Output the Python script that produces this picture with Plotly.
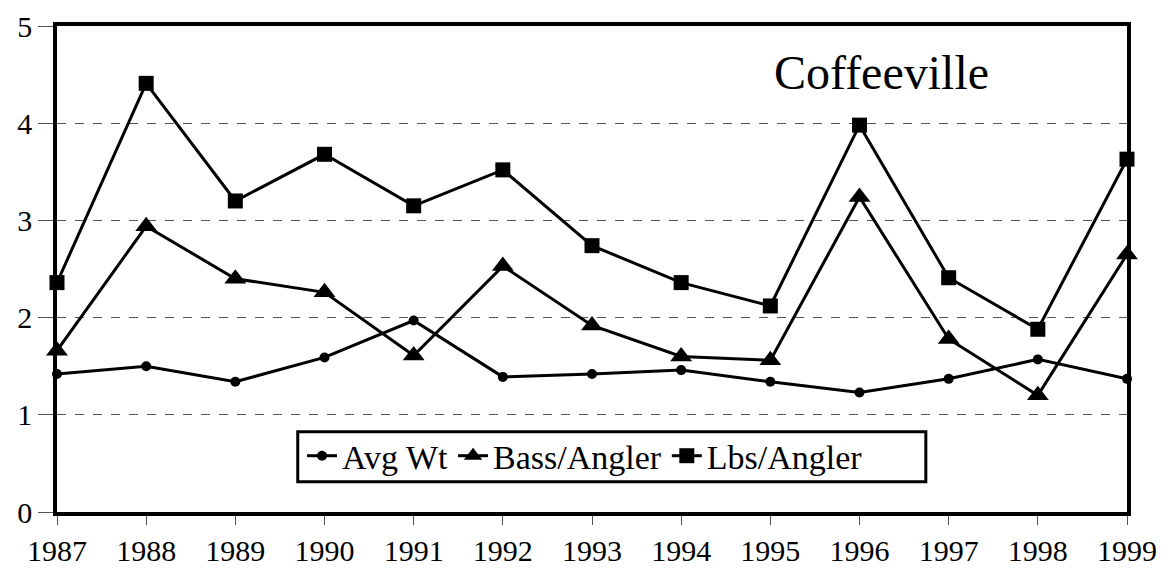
import plotly.graph_objects as go

years = [1987, 1988, 1989, 1990, 1991, 1992, 1993, 1994, 1995, 1996, 1997, 1998, 1999]
avg_wt = [1.42, 1.50, 1.34, 1.59, 1.97, 1.39, 1.42, 1.46, 1.34, 1.23, 1.37, 1.57, 1.37]
bass_per_angler = [1.66, 2.94, 2.40, 2.26, 1.61, 2.53, 1.92, 1.60, 1.56, 3.24, 1.78, 1.20, 2.65]
lbs_per_angler = [2.36, 4.41, 3.20, 3.68, 3.15, 3.52, 2.74, 2.36, 2.12, 3.98, 2.41, 1.88, 3.63]

serif = "Liberation Serif, Times New Roman, serif"

fig = go.Figure()

series = [
    ("Avg Wt", avg_wt, "circle", 10),
    ("Bass/Angler", bass_per_angler, "triangle-up", 19),
    ("Lbs/Angler", lbs_per_angler, "square", 15),
]
for name, vals, sym, size in series:
    fig.add_trace(go.Scatter(
        x=years, y=vals, name=name, mode="lines+markers",
        line=dict(color="black", width=3),
        marker=dict(symbol=sym, size=size, color="black"),
        cliponaxis=False,
    ))

fig.add_annotation(
    text="Coffeeville", xref="paper", yref="paper",
    x=0.668, y=0.905, xanchor="left", yanchor="middle",
    showarrow=False, font=dict(family=serif, size=48, color="black"),
)

# legend frame (Excel style, wider than its entries)
fig.add_shape(
    type="rect", xref="paper", yref="paper",
    x0=0.225, x1=0.812, y0=0.062, y1=0.165,
    line=dict(color="black", width=3), fillcolor="white", layer="above",
)

fig.update_layout(
    width=1171, height=577,
    margin=dict(l=57, r=44, t=26, b=65, autoexpand=False),
    paper_bgcolor="white", plot_bgcolor="white",
    font=dict(family=serif, color="black"),
    showlegend=True,
    legend=dict(
        orientation="h", x=0.229, y=0.115, xanchor="left", yanchor="middle",
        borderwidth=0, bgcolor="rgba(0,0,0,0)",
        font=dict(family=serif, size=34, color="black"),
        itemwidth=30, tracegroupgap=0,
    ),
    xaxis=dict(
        range=[1987, 1999], tickvals=years, ticktext=[str(y) for y in years],
        showgrid=False, zeroline=False, automargin=False,
        showline=True, linecolor="black", linewidth=3.5, mirror=True,
        ticks="outside", ticklen=9, tickcolor="#555555", tickwidth=1,
        tickfont=dict(family=serif, size=30, color="black"),
        ticklabelstandoff=0,
    ),
    yaxis=dict(
        range=[0, 5], tickvals=[0, 1, 2, 3, 4, 5],
        showgrid=True, gridcolor="#555555", gridwidth=1, griddash="dash",
        zeroline=False, automargin=False,
        showline=True, linecolor="black", linewidth=3.5, mirror=True,
        ticks="outside", ticklen=15, tickcolor="#555555", tickwidth=1,
        tickfont=dict(family=serif, size=30, color="black"),
        ticklabelstandoff=0,
    ),
)

fig.write_html("out.html", config={"displayModeBar": False},
               post_script="document.body.style.margin='0px';")
